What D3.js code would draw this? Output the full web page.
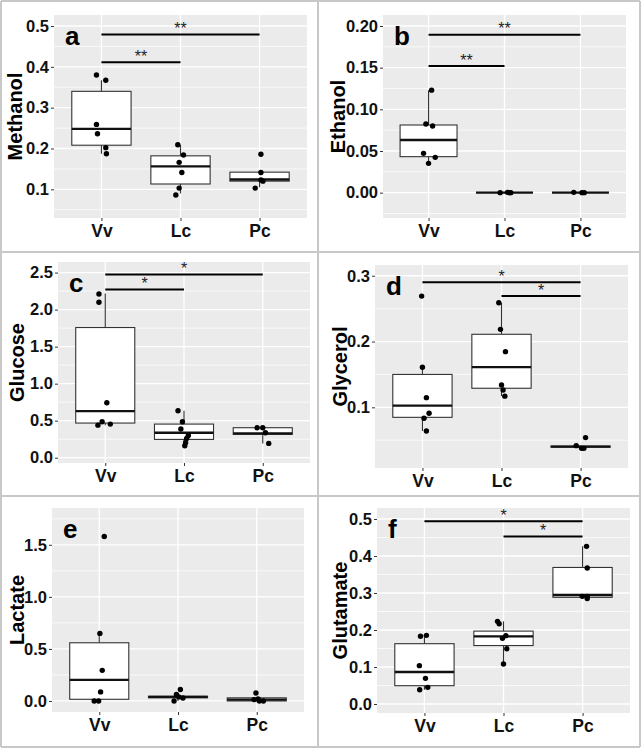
<!DOCTYPE html>
<html><head><meta charset="utf-8">
<script src="https://cdn.jsdelivr.net/npm/d3@7"></script>
<style>body{margin:0;background:#fff}svg{display:block}text{font-family:"Liberation Sans",Arial,sans-serif}</style>
</head><body><svg id="c" width="644" height="750"></svg>
<script>
// ---------------- DATA ----------------
const categories = ["Vv", "Lc", "Pc"];
const panelLetters = ["a", "b", "c", "d", "e", "f"];
const metabolites = ["Methanol", "Ethanol", "Glucose", "Glycerol", "Lactate", "Glutamate"];

// y-axis tick values and labels
const methanolTicks = [0.1, 0.2, 0.3, 0.4, 0.5];
const methanolTickLabels = ["0.1", "0.2", "0.3", "0.4", "0.5"];
const ethanolTicks = [0, 0.05, 0.10, 0.15, 0.20];
const ethanolTickLabels = ["0.00", "0.05", "0.10", "0.15", "0.20"];
const glucoseTicks = [0, 0.5, 1.0, 1.5, 2.0, 2.5];
const glucoseTickLabels = ["0.0", "0.5", "1.0", "1.5", "2.0", "2.5"];
const glycerolTicks = [0.1, 0.2, 0.3];
const glycerolTickLabels = ["0.1", "0.2", "0.3"];
const lactateTicks = [0, 0.5, 1.0, 1.5];
const lactateTickLabels = ["0.0", "0.5", "1.0", "1.5"];
const glutamateTicks = [0, 0.1, 0.2, 0.3, 0.4, 0.5];
const glutamateTickLabels = ["0.0", "0.1", "0.2", "0.3", "0.4", "0.5"];

// box statistics per category (Vv, Lc, Pc): [q1, median, q3, whiskerLow, whiskerHigh]
const methanolBox = [[0.208, 0.248, 0.340, 0.187, 0.367], [0.113, 0.156, 0.182, 0.090, 0.209], [0.120, 0.124, 0.142, 0.105, 0.142]];
const ethanolBox = [[0.0432, 0.0632, 0.0812, 0.0352, 0.123], [0, 0, 0, 0, 0], [0, 0, 0, 0, 0]];
const glucoseBox = [[0.468, 0.629, 1.758, 0.440, 2.217], [0.247, 0.337, 0.454, 0.162, 0.634], [0.315, 0.328, 0.405, 0.193, 0.405]];
const glycerolBox = [[0.0848, 0.1025, 0.150, 0.064, 0.161], [0.129, 0.161, 0.211, 0.117, 0.259], [0.0395, 0.0403, 0.041, 0.0377, 0.0418]];
const lactateBox = [[0.016, 0.203, 0.559, 0, 0.649], [0.030, 0.039, 0.045, 0, 0.062], [0.0, 0.013, 0.030, 0, 0.030]];
const glutamateBox = [[0.0495, 0.0865, 0.163, 0.0387, 0.187], [0.158, 0.183, 0.197, 0.108, 0.2234], [0.2883, 0.2946, 0.369, 0.285, 0.426]];

// individual sample values per category (Vv, Lc, Pc)
const methanolPts = [[0.380, 0.367, 0.259, 0.236, 0.202, 0.187], [0.209, 0.184, 0.166, 0.141, 0.103, 0.086], [0.186, 0.141, 0.123, 0.120, 0.103]];
const ethanolPts = [[0.123, 0.0824, 0.080, 0.0472, 0.0424, 0.0352], [0, 0.0004, 0, 0], [0.0004, 0, 0]];
const glucosePts = [[2.21, 2.10, 0.742, 0.486, 0.440, 0.454], [0.634, 0.486, 0.387, 0.301, 0.261, 0.202, 0.162], [0.405, 0.405, 0.337, 0.193]];
const glycerolPts = [[0.269, 0.161, 0.1147, 0.0909, 0.0833, 0.064], [0.259, 0.2185, 0.1846, 0.134, 0.1263, 0.117], [0.054, 0.0418, 0.0377, 0.0377]];
const lactatePts = [[1.58, 0.649, 0.294, 0.087, 0, 0], [0.110, 0.062, 0, 0.039, 0.029], [0.077, 0.013, 0, 0, 0.020]];
const glutamatePts = [[0.183, 0.1856, 0.1036, 0.0694, 0.0387, 0.045], [0.2234, 0.217, 0.1847, 0.1775, 0.1495, 0.108], [0.426, 0.3676, 0.291, 0.291, 0.285]];

// horizontal jitter of each sample (in category-step units)
const methanolJit = [[-0.063, 0.055, -0.063, -0.05, 0.055, 0.063], [-0.034, 0.038, -0.017, 0.017, -0.017, -0.059], [0.017, 0.017, 0.017, 0.042, -0.055]];
const ethanolJit = [[0.04, -0.035, 0.053, -0.066, 0.088, 0], [-0.057, 0.04, 0.066, 0.083], [-0.088, 0.02, 0.05]];
const glucoseJit = [[-0.08, -0.08, 0.02, -0.04, -0.093, 0.064], [-0.076, -0.02, -0.04, 0.055, 0.034, 0.02, 0.01], [-0.072, 0, 0.034, 0.076]];
const glycerolJit = [[-0.01, 0, 0.05, 0.084, 0.02, 0.05], [-0.034, -0.013, 0.05, 0, 0.02, 0.042], [0.063, -0.055, 0.013, 0.042]];
const lactateJit = [[0.064, 0.008, 0.038, 0.017, -0.064, -0.008], [0.03, -0.02, -0.05, 0.01, 0.063], [-0.01, -0.034, 0.033, 0.084, 0.017]];
const glutamateJit = [[-0.05, 0.025, -0.064, 0.013, -0.06, 0.042], [-0.076, -0.055, 0.03, -0.013, 0.042, 0], [0.05, 0.059, -0.004, 0.059, 0.059]];

// significance brackets: [from, to, yValue, label]
const methanolSig = [["Vv", "Pc", 0.479, "**"], ["Vv", "Lc", 0.411, "**"]];
const ethanolSig = [["Vv", "Pc", 0.1896, "**"], ["Vv", "Lc", 0.152, "**"]];
const glucoseSig = [["Vv", "Pc", 2.473, "*"], ["Vv", "Lc", 2.27, "*"]];
const glycerolSig = [["Vv", "Pc", 0.290, "*"], ["Lc", "Pc", 0.269, "*"]];
const lactateSig = [];
const glutamateSig = [["Vv", "Pc", 0.4937, "*"], ["Lc", "Pc", 0.453, "*"]];

// ---------------- ASSEMBLY ----------------
const panelsData = [
  {ticks: methanolTicks, labels: methanolTickLabels, box: methanolBox, pts: methanolPts, jit: methanolJit, sig: methanolSig},
  {ticks: ethanolTicks, labels: ethanolTickLabels, box: ethanolBox, pts: ethanolPts, jit: ethanolJit, sig: ethanolSig},
  {ticks: glucoseTicks, labels: glucoseTickLabels, box: glucoseBox, pts: glucosePts, jit: glucoseJit, sig: glucoseSig},
  {ticks: glycerolTicks, labels: glycerolTickLabels, box: glycerolBox, pts: glycerolPts, jit: glycerolJit, sig: glycerolSig},
  {ticks: lactateTicks, labels: lactateTickLabels, box: lactateBox, pts: lactatePts, jit: lactateJit, sig: lactateSig},
  {ticks: glutamateTicks, labels: glutamateTickLabels, box: glutamateBox, pts: glutamatePts, jit: glutamateJit, sig: glutamateSig}
];

// layout (positions / scale limits)
const layout = [
  {x0: 54, x1: 307, y0: 15, y1: 218, dom: [0.0297, 0.527], minor: 0.05, titleX: 22},
  {x0: 383, x1: 626, y0: 15, y1: 218, dom: [-0.0304, 0.2132], minor: 0.025, titleX: 345},
  {x0: 58, x1: 310, y0: 262, y1: 463, dom: [-0.0715, 2.643], minor: 0.25, titleX: 24},
  {x0: 375, x1: 628, y0: 265, y1: 468, dom: [0.0078, 0.3163], minor: 0.05, titleX: 347},
  {x0: 52, x1: 304, y0: 508, y1: 712, dom: [-0.106, 1.8536], minor: 0.25, titleX: 24},
  {x0: 377, x1: 630, y0: 508, y1: 713, dom: [-0.0243, 0.5297], minor: 0.05, titleX: 347}
];

const svg = d3.select("#c");
svg.append("rect").attr("width", 644).attr("height", 750).attr("fill", "#fff");

const frame = "#c8c8c8";
const fl = [[1, 1, 640, 1], [1, 747, 640, 747], [1, 1, 1, 747], [640, 1, 640, 747], [318, 1, 318, 747], [1, 252, 640, 252], [1, 496, 640, 496]];
svg.selectAll("line.frame").data(fl).enter().append("line").attr("class", "frame")
  .attr("x1", d => d[0]).attr("y1", d => d[1]).attr("x2", d => d[2]).attr("y2", d => d[3])
  .attr("stroke", frame).attr("stroke-width", 2);

panelsData.forEach((P, i) => {
  const L = layout[i];
  const g = svg.append("g");
  const x = d3.scalePoint().domain(categories).range([L.x0, L.x1]).padding(0.6);
  const y = d3.scaleLinear().domain(L.dom).range([L.y1, L.y0]);
  const step = x.step();
  const bw = 0.75 * step;

  g.append("rect").attr("x", L.x0).attr("y", L.y0).attr("width", L.x1 - L.x0).attr("height", L.y1 - L.y0).attr("fill", "#EBEBEB");

  // minor grid
  const minorVals = [];
  const lo = Math.ceil(L.dom[0] / L.minor - 1e-9), hi = Math.floor(L.dom[1] / L.minor + 1e-9);
  for (let k = lo; k <= hi; k++) {
    const v = k * L.minor;
    if (!P.ticks.some(t => Math.abs(t - v) < 1e-9)) minorVals.push(v);
  }
  g.selectAll("line.minor").data(minorVals).enter().append("line")
    .attr("x1", L.x0).attr("x2", L.x1).attr("y1", d => y(d)).attr("y2", d => y(d))
    .attr("stroke", "#fff").attr("stroke-width", 0.7);
  g.selectAll("line.major").data(P.ticks).enter().append("line")
    .attr("x1", L.x0).attr("x2", L.x1).attr("y1", d => y(d)).attr("y2", d => y(d))
    .attr("stroke", "#fff").attr("stroke-width", 1.3);
  g.selectAll("line.vmajor").data(categories).enter().append("line")
    .attr("x1", d => x(d)).attr("x2", d => x(d)).attr("y1", L.y0).attr("y2", L.y1)
    .attr("stroke", "#fff").attr("stroke-width", 1.3);

  // axes
  const ya = g.append("g").attr("transform", `translate(${L.x0},0)`)
    .call(d3.axisLeft(y).tickValues(P.ticks).tickFormat((d, j) => P.labels[j]).tickSize(3).tickPadding(2));
  ya.select(".domain").remove();
  ya.selectAll("line").attr("stroke", "#333");
  ya.selectAll("text").attr("font-size", 16.5).attr("font-weight", "bold").attr("fill", "#111")
    .attr("font-family", "Liberation Sans, Arial, sans-serif");
  const xa = g.append("g").attr("transform", `translate(0,${L.y1})`)
    .call(d3.axisBottom(x).tickSize(3).tickPadding(4));
  xa.select(".domain").remove();
  xa.selectAll("line").attr("stroke", "#333");
  xa.selectAll("text").attr("font-size", 17.5).attr("font-weight", "bold").attr("fill", "#111")
    .attr("font-family", "Liberation Sans, Arial, sans-serif");

  // boxes
  const boxes = P.box.map((b, j) => ({cat: categories[j], q1: b[0], med: b[1], q3: b[2], lo: b[3], hi: b[4]}));
  const bg = g.selectAll("g.box").data(boxes).enter().append("g");
  bg.append("line").attr("x1", d => x(d.cat)).attr("x2", d => x(d.cat)).attr("y1", d => y(d.q3)).attr("y2", d => y(d.hi))
    .attr("stroke", "#333").attr("stroke-width", 1.1);
  bg.append("line").attr("x1", d => x(d.cat)).attr("x2", d => x(d.cat)).attr("y1", d => y(d.q1)).attr("y2", d => y(d.lo))
    .attr("stroke", "#333").attr("stroke-width", 1.1);
  bg.append("rect").attr("x", d => x(d.cat) - bw / 2).attr("width", bw)
    .attr("y", d => y(d.q3)).attr("height", d => Math.max(0, y(d.q1) - y(d.q3)))
    .attr("fill", "#fff").attr("stroke", "#333").attr("stroke-width", 1.1);
  bg.append("line").attr("x1", d => x(d.cat) - bw / 2).attr("x2", d => x(d.cat) + bw / 2)
    .attr("y1", d => y(d.med)).attr("y2", d => y(d.med))
    .attr("stroke", "#111").attr("stroke-width", 2.3);

  // points
  const pts = [];
  P.pts.forEach((arr, j) => arr.forEach((v, k) => pts.push({cat: categories[j], v, jit: P.jit[j][k]})));
  g.selectAll("circle.pt").data(pts).enter().append("circle")
    .attr("cx", d => x(d.cat) + d.jit * step).attr("cy", d => y(d.v)).attr("r", 2.7).attr("fill", "#000");

  // significance
  const sg = g.selectAll("g.sig").data(P.sig).enter().append("g");
  sg.append("line").attr("x1", d => x(d[0])).attr("x2", d => x(d[1])).attr("y1", d => y(d[2])).attr("y2", d => y(d[2]))
    .attr("stroke", "#000").attr("stroke-width", 2);
  sg.append("text").attr("x", d => (x(d[0]) + x(d[1])) / 2).attr("y", d => y(d[2]) - 0.5)
    .attr("text-anchor", "middle").attr("font-size", 16).attr("fill", "#222").text(d => d[3]);

  // panel letter
  g.append("text").attr("x", L.x0 + 11).attr("y", L.y0 + 30).attr("font-size", 26).attr("font-weight", "bold")
    .attr("fill", "#000").text(panelLetters[i]);

  // y title
  g.append("text").attr("transform", `translate(${L.titleX},${(L.y0 + L.y1) / 2}) rotate(-90)`)
    .attr("text-anchor", "middle").attr("font-size", 20).attr("font-weight", "bold").attr("fill", "#000")
    .text(metabolites[i]);
});
</script></body></html>
